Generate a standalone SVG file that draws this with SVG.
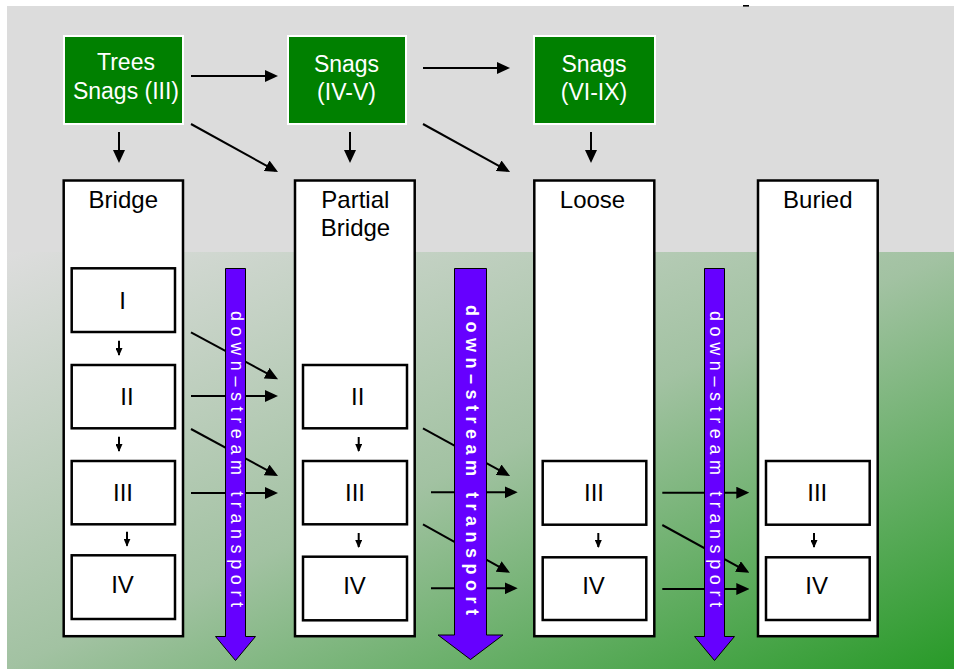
<svg xmlns="http://www.w3.org/2000/svg" width="954" height="669" viewBox="0 0 954 669">
<defs>
<linearGradient id="bg" x1="0" y1="0" x2="1" y2="1">
<stop offset="0" stop-color="#dddddd"/>
<stop offset="0.5" stop-color="#a2c2a2"/>
<stop offset="1" stop-color="#289a28"/>
</linearGradient>
<marker id="ah" markerUnits="userSpaceOnUse" markerWidth="13" markerHeight="12" refX="10" refY="6" orient="auto">
<path d="M0,0 L13,6 L0,12 z" fill="#000"/>
</marker>
<marker id="as" markerUnits="userSpaceOnUse" markerWidth="8" markerHeight="7" refX="7" refY="3.5" orient="auto">
<path d="M0,0 L8,3.5 L0,7 z" fill="#000"/>
</marker>
</defs>
<style>
text{font-family:"Liberation Sans",Arial,sans-serif;font-size:24px;text-anchor:middle;fill:#000}
.src rect{fill:#008000;stroke:#fff;stroke-width:2}
.src text{fill:#fff;font-size:23px}
.col{fill:#fff;stroke:#000;stroke-width:2.5}
.cls{fill:#fff;stroke:#000;stroke-width:2.5}
.c line{stroke:#000;stroke-width:2;fill:none}
.big{marker-end:url(#ah)}
.sm{marker-end:url(#as)}
.flow polygon{fill:#6600ff;stroke:#000;stroke-width:1}
.flow text{fill:#fff;font-size:18px;text-anchor:start}
</style>
<rect x="7" y="6" width="947" height="663" fill="#dcdcdc"/>
<rect x="7" y="252" width="947" height="417" fill="url(#bg)"/>
<rect x="743" y="5" width="6" height="1.6" fill="#000"/>

<g id="src-trees" class="src"><rect x="64" y="36" width="119" height="88"/><text x="126" y="70">Trees</text><text x="126" y="99">Snags (III)</text></g>
<g id="src-snags45" class="src"><rect x="288" y="36" width="118" height="88"/><text x="346.5" y="71.5">Snags</text><text x="346.5" y="100">(IV-V)</text></g>
<g id="src-snags69" class="src"><rect x="534" y="36" width="121" height="88"/><text x="594" y="71.5">Snags</text><text x="594" y="100">(VI-IX)</text></g>

<g id="col-bridge"><rect class="col" x="63.7" y="180.5" width="119.3" height="455.7"/><text x="123.3" y="208">Bridge</text></g>
<g id="col-partial"><rect class="col" x="295" y="180.5" width="119.7" height="455.7"/><text x="355.3" y="208.3">Partial</text><text x="355.5" y="236">Bridge</text></g>
<g id="col-loose"><rect class="col" x="534.3" y="180.5" width="120" height="455.7"/><text x="592.5" y="208">Loose</text></g>
<g id="col-buried"><rect class="col" x="758" y="180.5" width="119.7" height="455.7"/><text x="817.8" y="208">Buried</text></g>

<g id="bridge-I"><rect class="cls" x="71.7" y="268.3" width="103.3" height="63.7"/><text x="122.7" y="309">I</text></g>
<g id="bridge-II"><rect class="cls" x="71.7" y="365" width="103.3" height="63.3"/><text x="127" y="405">II</text></g>
<g id="bridge-III"><rect class="cls" x="71.7" y="461" width="103.3" height="63.3"/><text x="123" y="501">III</text></g>
<g id="bridge-IV"><rect class="cls" x="71.7" y="555.3" width="103.3" height="63.7"/><text x="122.5" y="593">IV</text></g>

<g id="partial-II"><rect class="cls" x="303" y="365" width="104" height="63.3"/><text x="357.7" y="405">II</text></g>
<g id="partial-III"><rect class="cls" x="303" y="461" width="104" height="63.3"/><text x="355" y="501">III</text></g>
<g id="partial-IV"><rect class="cls" x="303" y="556.7" width="104" height="63.6"/><text x="354.5" y="594.3">IV</text></g>

<g id="loose-III"><rect class="cls" x="542.7" y="461" width="103.6" height="63.7"/><text x="594" y="501">III</text></g>
<g id="loose-IV"><rect class="cls" x="542.7" y="557.3" width="103.6" height="62.7"/><text x="593.5" y="594.3">IV</text></g>

<g id="buried-III"><rect class="cls" x="766" y="461" width="103.7" height="63.7"/><text x="817.3" y="501">III</text></g>
<g id="buried-IV"><rect class="cls" x="766" y="557.3" width="103.7" height="62.7"/><text x="816.7" y="594.3">IV</text></g>

<g id="connectors" class="c">
<line class="big" x1="191" y1="76" x2="275" y2="76"/>
<line class="big" x1="423" y1="68" x2="507" y2="68"/>
<line class="big" x1="191" y1="124" x2="275.4" y2="170.6"/>
<line class="big" x1="423" y1="124" x2="507.4" y2="170.6"/>
<line class="big" x1="119" y1="132" x2="119" y2="160"/>
<line class="big" x1="350" y1="132" x2="350" y2="160"/>
<line class="big" x1="591" y1="132" x2="591" y2="160"/>

<line class="big" x1="191" y1="332.3" x2="275.4" y2="377.9"/>
<line class="big" x1="191" y1="396" x2="275" y2="396"/>
<line class="big" x1="191" y1="429" x2="275.4" y2="474.6"/>
<line class="big" x1="191" y1="493" x2="275" y2="493"/>
<line class="big" x1="423" y1="428.3" x2="507.4" y2="474.6"/>
<line class="big" x1="431" y1="492.3" x2="514.7" y2="492.3"/>
<line class="big" x1="423" y1="524.3" x2="507.4" y2="571.3"/>
<line class="big" x1="431" y1="588.3" x2="514.7" y2="588.3"/>
<line class="big" x1="662.3" y1="492.7" x2="746.3" y2="492.7"/>
<line class="big" x1="662.3" y1="525" x2="746.7" y2="571.3"/>
<line class="big" x1="662.3" y1="589" x2="746.3" y2="589"/>

<line class="sm" x1="119" y1="340.7" x2="119" y2="355"/>
<line class="sm" x1="119" y1="436.7" x2="119" y2="451"/>
<line class="sm" x1="127" y1="531.7" x2="127" y2="545.7"/>
<line class="sm" x1="358.7" y1="437" x2="358.7" y2="451"/>
<line class="sm" x1="358.7" y1="533" x2="358.7" y2="547"/>
<line class="sm" x1="598.3" y1="533" x2="598.3" y2="547"/>
<line class="sm" x1="814" y1="533" x2="814" y2="547"/>
</g>

<g id="flow-1" class="flow">
<polygon points="225.5,268.5 245.5,268.5 245.5,636.5 255.5,636.5 235.5,660.5 215.5,636.5 225.5,636.5"/>
<text transform="translate(230.8,311) rotate(90)" textLength="296" lengthAdjust="spacing">down–stream transport</text>
</g>
<g id="flow-2" class="flow">
<polygon points="454.5,268.5 486.5,268.5 486.5,635 503,635 470.5,659.5 438,635 454.5,635"/>
<text transform="translate(466,305) rotate(90)" font-weight="bold" textLength="310" lengthAdjust="spacing">down–stream transport</text>
</g>
<g id="flow-3" class="flow">
<polygon points="704.5,268.5 724.5,268.5 724.5,636.5 734.5,636.5 714.5,660.5 694.5,636.5 704.5,636.5"/>
<text transform="translate(710.3,311) rotate(90)" textLength="296" lengthAdjust="spacing">down–stream transport</text>
</g>
</svg>
